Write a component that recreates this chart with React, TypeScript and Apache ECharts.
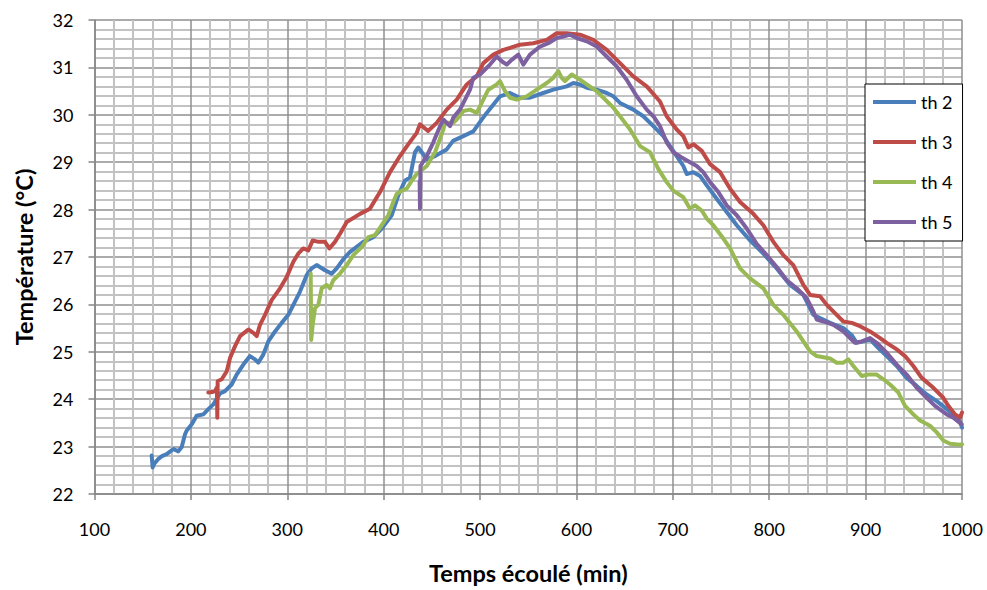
import React, { useEffect, useRef } from "react";
import * as echarts from "echarts";

// Temperature records (elapsed time in min, temperature in °C) for each sensor
const th2: [number, number][] = [
  [159.3, 22.81], [160.3, 22.56], [162, 22.64], [166.2, 22.74], [170, 22.8], [174.9, 22.84],
  [181.8, 22.95], [187, 22.9], [190.5, 22.99], [193.9, 23.26], [195.7, 23.34], [200.9, 23.47],
  [206, 23.65], [212.9, 23.68], [218.1, 23.79], [223.3, 23.89], [230.2, 24.12], [235.4, 24.17],
  [242.3, 24.31], [247.5, 24.52], [254.4, 24.73], [261.3, 24.91], [266.5, 24.84], [269.9, 24.77],
  [275.1, 24.94], [280.3, 25.22], [287.3, 25.43], [294.2, 25.61], [301.1, 25.78], [306.3, 25.99],
  [313.2, 26.27], [320.2, 26.62], [325.3, 26.76], [330.5, 26.83], [339.1, 26.72], [346.1, 26.65],
  [351.3, 26.76], [358, 26.95], [365.1, 27.11], [378.9, 27.32], [389.3, 27.42], [398, 27.6],
  [408.3, 27.88], [415.2, 28.3], [422.1, 28.61], [427.3, 28.68], [432.5, 29.21], [435.9, 29.31],
  [439.5, 29.21], [444.7, 29.06], [453.3, 29.13], [465.4, 29.27], [472, 29.45], [482.6, 29.55],
  [493, 29.65], [500, 29.85], [506.9, 30.04], [520.7, 30.39], [531.1, 30.46], [541.4, 30.36],
  [551.8, 30.36], [565.6, 30.46], [576, 30.53], [589.9, 30.6], [596.8, 30.67], [603.7, 30.64],
  [610.7, 30.57], [621, 30.53], [631.4, 30.46], [638.3, 30.39], [645.2, 30.25], [659, 30.11],
  [669.4, 29.97], [679.8, 29.76], [690.1, 29.55], [697.1, 29.34], [704, 29.13], [710.9, 28.92],
  [714.4, 28.75], [721.3, 28.79], [728.2, 28.71], [735.2, 28.51], [745.5, 28.23], [755.9, 27.95],
  [766.3, 27.67], [780.1, 27.35], [793.9, 27.07], [807.8, 26.76], [821.6, 26.41], [835.4, 26.2],
  [845.8, 25.78], [852.7, 25.71], [863.1, 25.61], [876.9, 25.5], [885.6, 25.35], [890.8, 25.19],
  [897.6, 25.22], [904.6, 25.26], [913.2, 25.08], [921.9, 24.91], [932.3, 24.7], [942.6, 24.45],
  [953, 24.28], [963.4, 24.1], [973.8, 23.96], [984.2, 23.79], [991, 23.68], [998, 23.52],
  [1000, 23.4],
];

const th3: [number, number][] = [
  [218.1, 24.14], [222, 24.15], [225, 24.17], [227, 24.25], [227.4, 23.61], [227.8, 24.38],
  [232, 24.42], [237.2, 24.59], [240.6, 24.87], [245.8, 25.12], [251, 25.33], [259.6, 25.47],
  [264.8, 25.4], [268.3, 25.33], [271.7, 25.57], [276.9, 25.78], [283.8, 26.09], [292.5, 26.34],
  [299.4, 26.58], [306.3, 26.9], [311.4, 27.07], [316.6, 27.18], [321.8, 27.14], [326.4, 27.35],
  [332.2, 27.32], [339.1, 27.32], [343.6, 27.18], [349.5, 27.32], [354.7, 27.49], [361.7, 27.74],
  [375.5, 27.91], [385.8, 28.02], [396.2, 28.37], [406.6, 28.79], [416.9, 29.13], [425.6, 29.38],
  [434.3, 29.62], [437.7, 29.8], [446, 29.66], [455, 29.83], [465.4, 30.11], [475.8, 30.32],
  [486.2, 30.64], [496.5, 30.81], [503.4, 31.09], [513.8, 31.27], [524.1, 31.37], [531.1, 31.41],
  [541.4, 31.48], [555.3, 31.51], [569.2, 31.58], [579.5, 31.72], [589.9, 31.72], [603.7, 31.69],
  [617.5, 31.58], [631.4, 31.37], [645.2, 31.09], [659, 30.81], [672.9, 30.6], [686.7, 30.28],
  [693.6, 29.97], [704, 29.69], [710.9, 29.55], [716.1, 29.31], [721.3, 29.38], [730, 29.24],
  [738.6, 28.96], [749, 28.79], [759.4, 28.44], [769.7, 28.16], [783.5, 27.91], [793.9, 27.67],
  [804.3, 27.32], [814.6, 27.04], [825, 26.83], [835.4, 26.41], [842.4, 26.2], [852.7, 26.17],
  [859.7, 25.99], [870, 25.78], [876.9, 25.64], [885.6, 25.61], [894.2, 25.54], [904.6, 25.43],
  [915, 25.29], [921.9, 25.19], [932.3, 25.05], [940.9, 24.91], [949.5, 24.7], [958.2, 24.45],
  [970.3, 24.24], [980.6, 24.03], [985.8, 23.86], [992.8, 23.68], [998, 23.61], [1000, 23.72],
];

const th4: [number, number][] = [
  [324.3, 26.65], [324.8, 25.25], [326.5, 25.6], [328.8, 25.92], [332.2, 25.99], [335.7, 26.34],
  [340.9, 26.41], [344.3, 26.34], [347.7, 26.51], [354.7, 26.65], [361.7, 26.83], [368.5, 27.04],
  [377.2, 27.21], [384.1, 27.42], [391, 27.46], [398, 27.67], [404.8, 27.88], [410, 28.16],
  [413.5, 28.33], [418.7, 28.4], [423.9, 28.44], [429.1, 28.61], [434.3, 28.75], [444.7, 28.92],
  [453.3, 29.21], [461.9, 29.69], [463.6, 29.83], [472.2, 29.83], [475.8, 29.9], [482.6, 30.08],
  [489.6, 30.11], [496.5, 30.04], [501.7, 30.25], [508.6, 30.53], [517.3, 30.64], [520.7, 30.71],
  [525.9, 30.5], [531.1, 30.36], [538, 30.32], [548.4, 30.39], [558.8, 30.53], [569.2, 30.67],
  [576, 30.78], [581.2, 30.92], [584.7, 30.78], [588.1, 30.71], [595.1, 30.85], [603.7, 30.74],
  [610.7, 30.64], [621, 30.5], [627.9, 30.36], [638.3, 30.15], [645.2, 29.97], [655.6, 29.69],
  [666, 29.34], [676.3, 29.21], [684.9, 28.86], [693.6, 28.58], [700.5, 28.4], [710.9, 28.26],
  [717.8, 28.02], [723, 28.09], [730, 27.98], [735.2, 27.81], [742, 27.67], [752.4, 27.39],
  [759.4, 27.18], [769.7, 26.76], [780.1, 26.55], [793.9, 26.34], [804.3, 25.99], [814.6, 25.78],
  [828.5, 25.43], [842.4, 25.01], [849.3, 24.91], [863.1, 24.86], [870, 24.77], [876.9, 24.77],
  [882.1, 24.84], [887.3, 24.7], [896, 24.49], [902.8, 24.52], [911.5, 24.52], [918.4, 24.42],
  [925.3, 24.31], [934, 24.14], [940.9, 23.86], [949.5, 23.68], [956.5, 23.55], [966.8, 23.44],
  [973.8, 23.3], [980.6, 23.13], [987.6, 23.06], [998, 23.04], [1000, 23.05],
];

const th5: [number, number][] = [
  [437.3, 28.6], [437.7, 28.02], [438.2, 28.92], [444.7, 29.13], [451.5, 29.42], [458.5, 29.76],
  [461.9, 29.9], [468.8, 29.76], [472.2, 29.94], [479.2, 30.11], [489.6, 30.53], [493, 30.78],
  [500, 30.85], [510.3, 31.06], [517.3, 31.23], [522.5, 31.13], [527.7, 31.06], [532.8, 31.16],
  [539.7, 31.27], [544.9, 31.06], [551.8, 31.27], [562.2, 31.44], [570.8, 31.51], [579.5, 31.62],
  [586.4, 31.65], [593.3, 31.69], [600.3, 31.62], [610.7, 31.55], [621, 31.44], [631.4, 31.23],
  [641.8, 31.02], [652.1, 30.74], [662.5, 30.39], [672.9, 30.11], [679.8, 29.97], [686.7, 29.76],
  [693.6, 29.42], [700.5, 29.21], [709.2, 29.1], [717.8, 29.0], [724.8, 28.92], [731.6, 28.79],
  [738.6, 28.58], [747.2, 28.37], [755.9, 28.09], [766.3, 27.88], [776.7, 27.6], [787, 27.28],
  [797.4, 27.04], [807.8, 26.79], [818.2, 26.51], [828.5, 26.34], [838.9, 26.13], [845.8, 25.85],
  [849.3, 25.68], [856.2, 25.64], [866.6, 25.57], [876.9, 25.43], [883.8, 25.29], [889, 25.19],
  [896, 25.22], [904.6, 25.29], [911.5, 25.19], [921.9, 24.98], [932.3, 24.73], [942.6, 24.52],
  [953, 24.24], [963.4, 24.03], [972, 23.86], [984.2, 23.68], [991, 23.61], [999.7, 23.47],
];

const seriesNames = ["th 2", "th 3", "th 4", "th 5"];
const seriesData = [th2, th3, th4, th5];
const seriesColors = ["#4A7EBB", "#BE4B48", "#98B954", "#7D60A0"];

const FONT = "Lato, 'Open Sans', sans-serif";

export default function App() {
  const ref = useRef<HTMLDivElement>(null);

  useEffect(() => {
    if (!ref.current) return;
    const chart = echarts.init(ref.current, undefined, { renderer: "svg" });

    const axisGray = "#868686";
    const majorGrid = { show: true, lineStyle: { color: "#8f8f8f", width: 1.5 } };
    const minorGrid = { show: true, lineStyle: { color: "#c2c2c2", width: 2 } };
    const titleStyle = { fontFamily: FONT, fontSize: 23.5, fontWeight: "bold", color: "#000000" };
    const tickLabel = (margin: number) => ({
      margin,
      fontFamily: FONT,
      fontSize: 18,
      color: "#000000",
      formatter: (v: number) => String(v),
    });

    chart.setOption({
      animation: false,
      backgroundColor: "#ffffff",
      textStyle: { fontFamily: FONT },
      grid: { left: 94.5, right: 25, top: 20, bottom: 93, containLabel: false },
      legend: {
        orient: "vertical",
        left: 865,
        top: 84,
        data: seriesNames,
        icon: "rect",
        itemWidth: 43,
        itemHeight: 4,
        itemGap: 22,
        padding: [9, 10, 10, 8],
        backgroundColor: "#ffffff",
        borderColor: "#000000",
        borderWidth: 1,
        borderRadius: 0,
        textStyle: { fontFamily: FONT, fontSize: 18, color: "#000000" },
      },
      xAxis: {
        type: "value",
        min: 100,
        max: 1000,
        interval: 100,
        name: "Temps écoulé (min)",
        nameLocation: "middle",
        nameGap: 67,
        nameTextStyle: titleStyle,
        axisLine: { show: true, onZero: false, lineStyle: { color: axisGray, width: 1.5 } },
        axisTick: { show: true, inside: false, length: 6, lineStyle: { color: axisGray, width: 1.5 } },
        axisLabel: tickLabel(26),
        splitLine: majorGrid,
        minorTick: { show: false, splitNumber: 5 },
        minorSplitLine: minorGrid,
      },
      yAxis: {
        type: "value",
        min: 22,
        max: 32,
        interval: 1,
        name: "Température (°C)",
        nameLocation: "middle",
        nameGap: 59,
        nameTextStyle: titleStyle,
        axisLine: { show: true, onZero: false, lineStyle: { color: axisGray, width: 1.5 } },
        axisTick: { show: true, inside: false, length: 6, lineStyle: { color: axisGray, width: 1.5 } },
        axisLabel: tickLabel(21),
        splitLine: majorGrid,
        minorTick: { show: false, splitNumber: 5 },
        minorSplitLine: minorGrid,
      },
      series: seriesNames.map((name, i) => ({
        name,
        type: "line",
        data: seriesData[i],
        showSymbol: false,
        symbol: "none",
        smooth: false,
        color: seriesColors[i],
        lineStyle: { color: seriesColors[i], width: 4, join: "round", cap: "round" },
        itemStyle: { color: seriesColors[i] },
      })),
    });

    return () => chart.dispose();
  }, []);

  return <div ref={ref} style={{ width: 987, height: 590, position: "absolute", left: 0, top: 0 }} />;
}
